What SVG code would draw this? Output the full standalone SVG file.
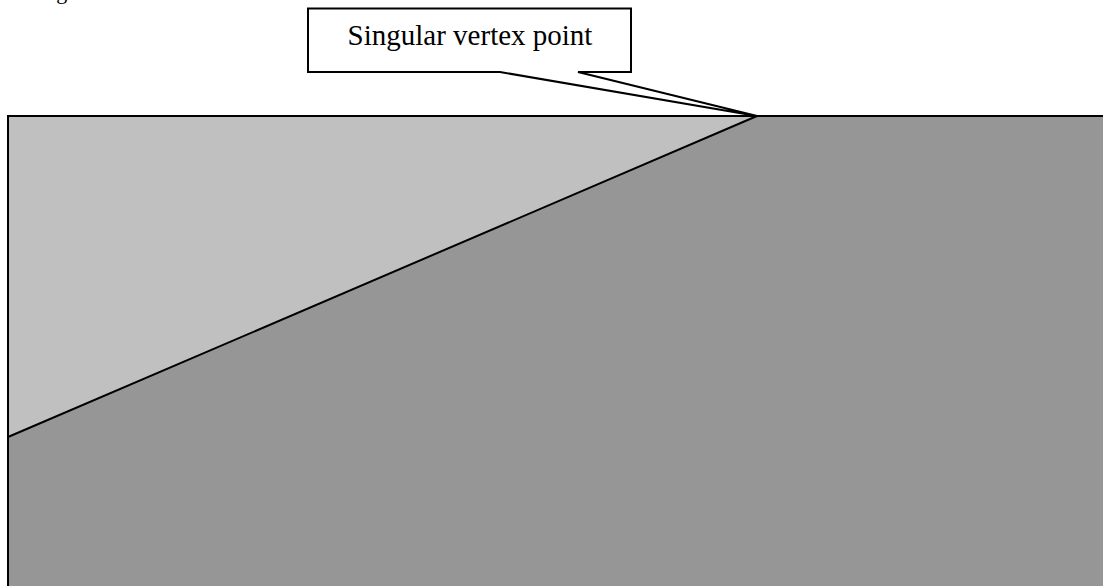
<svg xmlns="http://www.w3.org/2000/svg" width="1103" height="586" viewBox="0 0 1103 586">
<style>
.edge{fill:none;stroke:#000;stroke-width:2}
.lbl{font-family:"Liberation Serif","Times New Roman",serif;fill:#000}
</style>
<rect width="1103" height="586" fill="#fff"/>
<text class="lbl" x="38" y="-1" font-size="22">Fig.</text>
<g id="lower-region">
<polygon points="8,437 757,116 1110,116 1110,600 8,600" fill="#969696"/>
</g>
<g id="upper-region">
<polygon points="8,116 757,116 8,437" fill="#c0c0c0"/>
</g>
<g id="connectors">
<path class="edge" d="M8,600 L8,116 L1110,116"/>
<line class="edge" x1="8" y1="437" x2="757" y2="116"/>
</g>
<g id="callout">
<path d="M308,8.5 L631,8.5 L631,72 L578,72 L757,116 L500,72 L308,72 Z" fill="#fff" stroke="#000" stroke-width="2" stroke-linejoin="miter"/>
<text class="lbl" x="470" y="45" font-size="29" text-anchor="middle">Singular vertex point</text>
</g>
</svg>
